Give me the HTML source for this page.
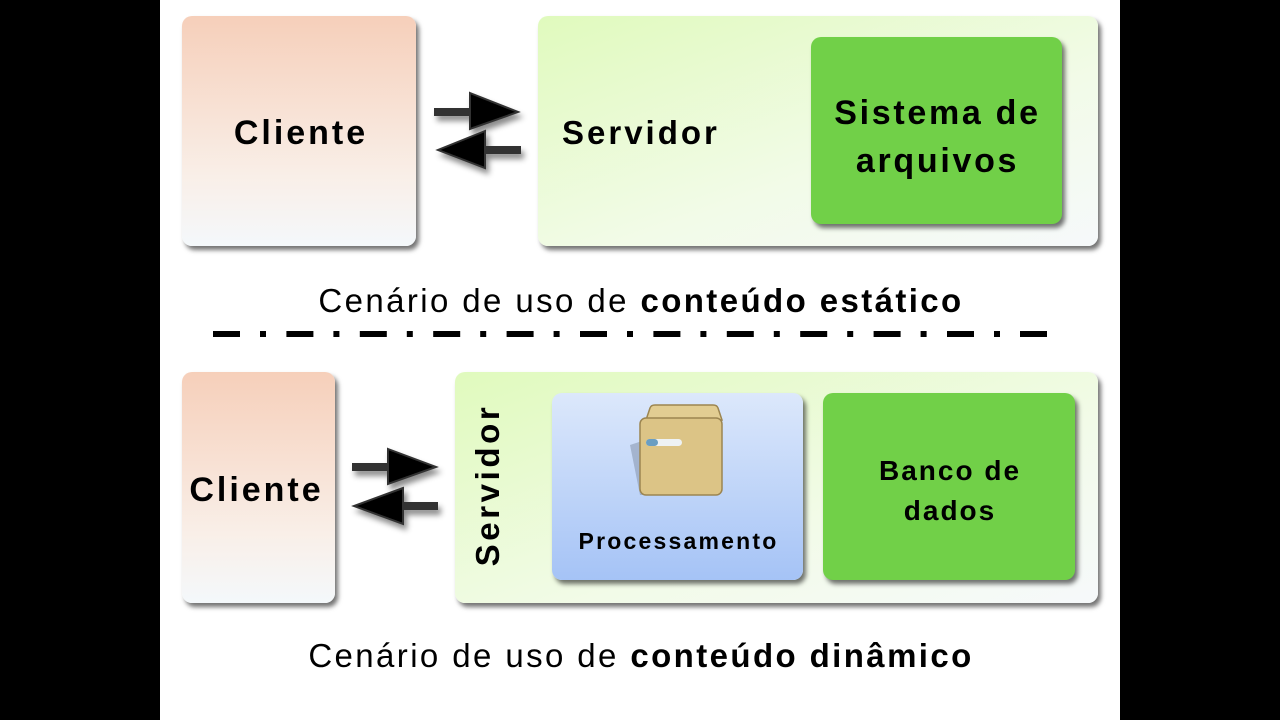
<!DOCTYPE html>
<html><head><meta charset="utf-8"><style>
html,body{margin:0;padding:0;width:1280px;height:720px;overflow:hidden;background:#000}
.pg{position:absolute;left:160px;top:0;width:960px;height:720px;background:#fff}
.b{position:absolute;border-radius:10px;box-shadow:3px 4px 5px rgba(0,0,0,.55)}
.t{position:absolute;font-family:"Liberation Sans",sans-serif;font-weight:bold;color:#000;text-align:center;white-space:nowrap}
.cap{position:absolute;font-family:"Liberation Sans",sans-serif;font-size:33px;color:#000;text-align:center;width:960px;left:0;letter-spacing:2.4px}
</style></head><body>
<div class="pg"></div>
<!-- top -->
<div class="b" style="left:182px;top:16px;width:234px;height:230px;background:linear-gradient(#f6cfba,#f9efe8 70%,#f4f8fb)"></div>
<div class="t" style="left:184px;top:114px;width:234px;font-size:34px;letter-spacing:3px">Cliente</div>
<div class="b" style="left:538px;top:16px;width:560px;height:230px;background:linear-gradient(160deg,#e0fabd,#f2fbe8 60%,#f6f9fb)"></div>
<div class="t" style="left:562px;top:114px;font-size:33px;letter-spacing:3px">Servidor</div>
<div class="b" style="left:811px;top:37px;width:251px;height:187px;background:#71d048"></div>
<div class="t" style="left:812px;top:89px;width:251px;font-size:34px;line-height:48px;letter-spacing:2.7px">Sistema de<br>arquivos</div>
<div class="cap" style="left:161px;top:282px">Cenário de uso de <b>conteúdo estático</b></div>
<svg style="position:absolute;left:0;top:0" width="1280" height="720">
<defs><filter id="s" x="-30%" y="-30%" width="160%" height="160%"><feDropShadow dx="3" dy="5" stdDeviation="3" flood-opacity="0.45"/></filter></defs>
<g filter="url(#s)" stroke="#333" stroke-width="2" fill="#000">
<rect x="434" y="108" width="40" height="8" fill="#333" stroke="none"/>
<polygon points="470,93 518,112 470,129"/>
<rect x="480" y="146" width="41" height="8" fill="#333" stroke="none"/>
<polygon points="485,131 438,150 485,168"/>
<rect x="352" y="463" width="40" height="8" fill="#333" stroke="none"/>
<polygon points="388,449 436,467 388,484"/>
<rect x="398" y="502" width="40" height="8" fill="#333" stroke="none"/>
<polygon points="403,488 354,506 403,524"/>
</g>
<g fill="#000">
<rect x="213" y="331" width="27" height="6"/><rect x="260" y="331" width="6" height="6"/>
<rect x="286.4" y="331" width="27" height="6"/><rect x="333.4" y="331" width="6" height="6"/>
<rect x="359.8" y="331" width="27" height="6"/><rect x="406.8" y="331" width="6" height="6"/>
<rect x="433.2" y="331" width="27" height="6"/><rect x="480.2" y="331" width="6" height="6"/>
<rect x="506.6" y="331" width="27" height="6"/><rect x="553.6" y="331" width="6" height="6"/>
<rect x="580" y="331" width="27" height="6"/><rect x="627" y="331" width="6" height="6"/>
<rect x="653.4" y="331" width="27" height="6"/><rect x="700.4" y="331" width="6" height="6"/>
<rect x="726.8" y="331" width="27" height="6"/><rect x="773.8" y="331" width="6" height="6"/>
<rect x="800.2" y="331" width="27" height="6"/><rect x="847.2" y="331" width="6" height="6"/>
<rect x="873.6" y="331" width="27" height="6"/><rect x="920.6" y="331" width="6" height="6"/>
<rect x="947" y="331" width="27" height="6"/><rect x="994" y="331" width="6" height="6"/>
<rect x="1020" y="331" width="27" height="6"/>
</g>
</svg>
<!-- bottom -->
<div class="b" style="left:182px;top:372px;width:153px;height:231px;background:linear-gradient(#f6cfba,#f9efe8 70%,#f4f8fb)"></div>
<div class="t" style="left:180px;top:471px;width:153px;font-size:34px;letter-spacing:3px">Cliente</div>
<div class="b" style="left:455px;top:372px;width:643px;height:231px;background:linear-gradient(160deg,#e0fabd,#f2fbe8 60%,#f6f9fb)"></div>
<div class="t" style="left:397px;top:466px;width:182px;font-size:33px;letter-spacing:3.6px;transform:rotate(-90deg);transform-origin:center">Servidor</div>
<div class="b" style="left:552px;top:393px;width:251px;height:187px;background:linear-gradient(#dce8fb,#a5c3f6)"></div>
<svg style="position:absolute;left:620px;top:400px" width="110" height="100">
<polygon points="10,45 25,40 25,95 20,95" fill="#8a9ab0" opacity="0.6"/>
<path d="M26,20 L30,8 Q31,5 35,5 L93,5 Q97,5 98,8 L102,20 Z" fill="#e2cd92" stroke="#9c8550" stroke-width="1.5"/>
<rect x="20" y="18" width="82" height="77" rx="6" fill="#dcc486" stroke="#9c8550" stroke-width="1.5"/>
<rect x="26" y="39" width="36" height="7" rx="3.5" fill="#eef2f4"/>
<rect x="26" y="39" width="12" height="7" rx="3.5" fill="#6a9ec2"/>
</svg>
<div class="t" style="left:553px;top:528px;width:251px;font-size:23px;letter-spacing:2.2px">Processamento</div>
<div class="b" style="left:823px;top:393px;width:252px;height:187px;background:#71d048"></div>
<div class="t" style="left:824px;top:451px;width:252px;font-size:28px;line-height:40px;letter-spacing:2px">Banco de<br>dados</div>
<div class="cap" style="left:161px;top:637px">Cenário de uso de <b>conteúdo dinâmico</b></div>
</body></html>
